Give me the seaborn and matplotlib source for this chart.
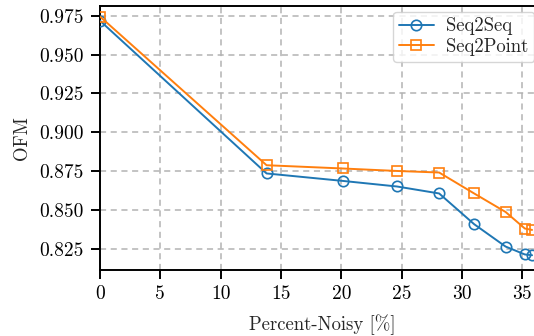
import matplotlib
matplotlib.use("Agg")
import matplotlib.pyplot as plt
import seaborn as sns
import pandas as pd

# Percent of noisy samples and the resulting OFM score per model
seq2seq_x = [0.0, 13.8, 20.1, 24.6, 28.1, 31.0, 33.6, 35.2, 35.8]
seq2seq_ofm = [0.9718, 0.8734, 0.8686, 0.8650, 0.8605, 0.8407, 0.8263, 0.8212, 0.8207]

seq2point_x = [0.0, 13.8, 20.1, 24.6, 28.1, 31.0, 33.6, 35.2, 35.8]
seq2point_ofm = [0.9745, 0.8787, 0.8766, 0.8750, 0.8740, 0.8605, 0.8486, 0.8379, 0.8370]

x_ticks = [0, 5, 10, 15, 20, 25, 30, 35]
y_ticks = [0.825, 0.850, 0.875, 0.900, 0.925, 0.950, 0.975]

sns.set_theme(style="ticks")
plt.rcParams["font.family"] = ["cmr10", "DejaVu Serif"]
plt.rcParams["axes.formatter.use_mathtext"] = True
plt.rcParams["mathtext.fontset"] = "cm"

W, H = 534, 336
fig = plt.figure(figsize=(W / 100, H / 100), dpi=100)
left, right, top, bottom = 100, 545, 5.7, 269.5
ax = fig.add_axes([left / W, (H - bottom) / H, (right - left) / W, (bottom - top) / H])

blue = "#1f77b4"
orange = "#ff7f0e"

df_a = pd.DataFrame({"x": seq2seq_x, "ofm": seq2seq_ofm})
df_b = pd.DataFrame({"x": seq2point_x, "ofm": seq2point_ofm})

sns.lineplot(data=df_a, x="x", y="ofm", ax=ax, color=blue, marker="o",
             markersize=7.5, markerfacecolor="none", markeredgecolor=blue,
             markeredgewidth=1.2, linewidth=1.4, label="Seq2Seq", zorder=3)
sns.lineplot(data=df_b, x="x", y="ofm", ax=ax, color=orange, marker="s",
             markersize=7.5, markerfacecolor="none", markeredgecolor=orange,
             markeredgewidth=1.2, linewidth=1.4, label="Seq2Point", zorder=3)

ax.set_xlim(0, 36.87)
ax.set_ylim(0.8115, 0.9815)
ax.set_xticks(x_ticks)
ax.set_yticks(y_ticks)
ax.set_yticklabels([f"{v:.3f}" for v in y_ticks])
ax.set_xticklabels([str(v) for v in x_ticks])

ax.grid(True, linestyle=(0, (4, 3)), color="#b3b3b3", linewidth=1.1)
ax.set_axisbelow(True)

for s in ax.spines.values():
    s.set_color("black")
    s.set_linewidth(1.4)

ax.tick_params(axis="both", direction="out", length=6.5, width=1.4,
               labelsize=14, pad=5, colors="black")

ax.set_xlabel("Percent-Noisy [%]", fontsize=13.5, labelpad=8)
ax.set_ylabel("OFM", fontsize=13.5, labelpad=6)

leg = ax.legend(loc="upper left", bbox_to_anchor=(393 / W, (H - 11.5) / H),
                bbox_transform=fig.transFigure, fontsize=13.5, frameon=True,
                fancybox=True, framealpha=0.8, edgecolor="#cccccc",
                borderaxespad=0.0, borderpad=0.3, handlelength=1.9,
                handletextpad=0.65, labelspacing=0.15)

fig.savefig("out.png", dpi=100)
